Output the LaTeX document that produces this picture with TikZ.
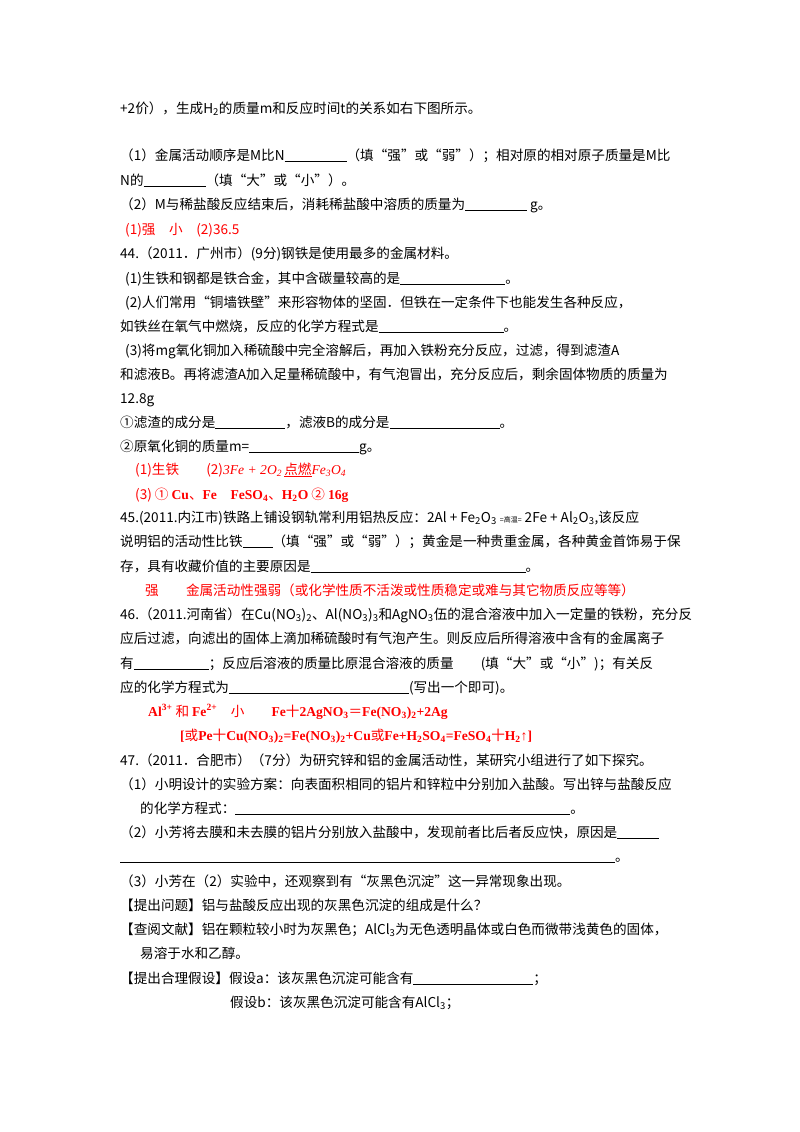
\documentclass[tikz,border=0pt]{standalone}
\usepackage{fontspec}
\setmainfont{Noto Sans CJK SC}
\newfontfamily\tnr{Liberation Serif}
\newcommand\blank[1]{\rule[-2pt]{#1pt}{0.7pt}}
\newcommand\tb[1]{{\tnr\bfseries #1}}
\begin{document}
\begin{tikzpicture}[x=1pt,y=-1pt,
  ln/.style={anchor=base west,inner sep=0pt,font=\fontsize{13.6}{15}\selectfont},
  ans/.style={ln,text=red}]
\useasboundingbox (0,0) rectangle (800,1132);
\fill[white] (0,0) rectangle (800,1132);
\node[ln] (l1) at (120,113) {+2价），生成H\textsubscript{2}的质量m和反应时间t的关系如右下图所示。};
\node[ln] (l2) at (120,160) {（1）金属活动顺序是M比N\blank{62}（填“强”或“弱”）；相对原的相对原子质量是M比};
\node[ln] (l3) at (120,185) {N的\blank{62}（填“大”或“小”）。};
\node[ln] (l4) at (120,209) {（2）M与稀盐酸反应结束后，消耗稀盐酸中溶质的质量为\blank{62}\ g。};
\node[ans] (a1) at (125,234) {(1)强　小　(2)36.5};
\node[ln] (l5) at (120,258) {44.（2011．广州市）(9分)钢铁是使用最多的金属材料。};
\node[ln] (l6) at (125,283) {(1)生铁和钢都是铁合金，其中含碳量较高的是\blank{105}。};
\node[ln] (l7) at (125,307) {(2)人们常用“铜墙铁壁”来形容物体的坚固．但铁在一定条件下也能发生各种反应，};
\node[ln] (l8) at (120,331) {如铁丝在氧气中燃烧，反应的化学方程式是\blank{125}。};
\node[ln] (l9) at (125,355) {(3)将mg氧化铜加入稀硫酸中完全溶解后，再加入铁粉充分反应，过滤，得到滤渣A};
\node[ln] (l10) at (120,379) {和滤液B。再将滤渣A加入足量稀硫酸中，有气泡冒出，充分反应后，剩余固体物质的质量为};
\node[ln] (l11) at (120,403) {12.8g};
\node[ln] (l12) at (120,427) {①滤渣的成分是\blank{70}，滤液B的成分是\blank{110}。};
\node[ln] (l13) at (120,451) {②原氧化铜的质量m=\blank{110}g。};
\node[ans] (a2) at (135,474) {(1)生铁\quad\quad (2){\tnr\itshape 3Fe + 2O\textsubscript{2}\,}\underline{点燃}{\tnr\itshape Fe\textsubscript{3}O\textsubscript{4}}};
\node[ans] (a3) at (135,499) {(3) ① \tb{Cu}、\tb{Fe}\quad \tb{FeSO\textsubscript{4}}、\tb{H\textsubscript{2}O} ② \tb{16g}};
\node[ln] (l14) at (120,522) {45.(2011.内江市)铁路上铺设钢轨常利用铝热反应：2Al + Fe\textsubscript{2}O\textsubscript{3} {\fontsize{7}{8}\selectfont =高温=} 2Fe + Al\textsubscript{2}O\textsubscript{3},该反应};
\node[ln] (l15) at (120,546) {说明铝的活动性比铁\blank{30}（填“强”或“弱”）；黄金是一种贵重金属，各种黄金首饰易于保};
\node[ln] (l16) at (120,571) {存，具有收藏价值的主要原因是\blank{215}。};
\node[ans] (a4) at (145,595) {强　　金属活动性强弱（或化学性质不活泼或性质稳定或难与其它物质反应等等）};
\node[ln] (l17) at (120,619) {46.（2011.河南省）在Cu(NO\textsubscript{3})\textsubscript{2}、Al(NO\textsubscript{3})\textsubscript{3}和AgNO\textsubscript{3}伍的混合溶液中加入一定量的铁粉，充分反};
\node[ln] (l18) at (120,643) {应后过滤，向滤出的固体上滴加稀硫酸时有气泡产生。则反应后所得溶液中含有的金属离子};
\node[ln] (l19) at (120,668) {有\blank{75}；反应后溶液的质量比原混合溶液的质量\quad\quad (填“大”或“小”)；有关反};
\node[ln] (l20) at (120,692) {应的化学方程式为\blank{180}(写出一个即可)。};
\node[ans] (a5) at (148,716) {\tb{Al\textsuperscript{3+}} 和 \tb{Fe\textsuperscript{2+}}\quad 小\quad\quad \tb{Fe}十\tb{2AgNO\textsubscript{3}}＝\tb{Fe(NO\textsubscript{3})\textsubscript{2}+2Ag}};
\node[ans] (a6) at (180,740) {\tb{[}或\tb{Pe}十\tb{Cu(NO\textsubscript{3})\textsubscript{2}=Fe(NO\textsubscript{3})\textsubscript{2}+Cu}或\tb{Fe+H\textsubscript{2}SO\textsubscript{4}=FeSO\textsubscript{4}}十\tb{H\textsubscript{2}↑]}};
\node[ln] (l21) at (120,765) {47.（2011．合肥市）（7分）为研究锌和铝的金属活动性，某研究小组进行了如下探究。};
\node[ln] (l22) at (120,789) {（1）小明设计的实验方案：向表面积相同的铝片和锌粒中分别加入盐酸。写出锌与盐酸反应};
\node[ln] (l23) at (140,813) {的化学方程式：\blank{335}。};
\node[ln] (l24) at (120,837) {（2）小芳将去膜和未去膜的铝片分别放入盐酸中，发现前者比后者反应快，原因是\blank{42}};
\node[ln] (l25) at (120,861) {\blank{495}。};
\node[ln] (l26) at (120,886) {（3）小芳在（2）实验中，还观察到有“灰黑色沉淀”这一异常现象出现。};
\node[ln] (l27) at (120,910) {【提出问题】铝与盐酸反应出现的灰黑色沉淀的组成是什么？};
\node[ln] (l28) at (120,934) {【查阅文献】铝在颗粒较小时为灰黑色；AlCl\textsubscript{3}为无色透明晶体或白色而微带浅黄色的固体，};
\node[ln] (l29) at (140,958) {易溶于水和乙醇。};
\node[ln] (l30) at (120,983) {【提出合理假设】假设a：该灰黑色沉淀可能含有\blank{120}；};
\node[ln] (l31) at (230,1007) {假设b：该灰黑色沉淀可能含有AlCl\textsubscript{3}；};
\end{tikzpicture}
\end{document}
